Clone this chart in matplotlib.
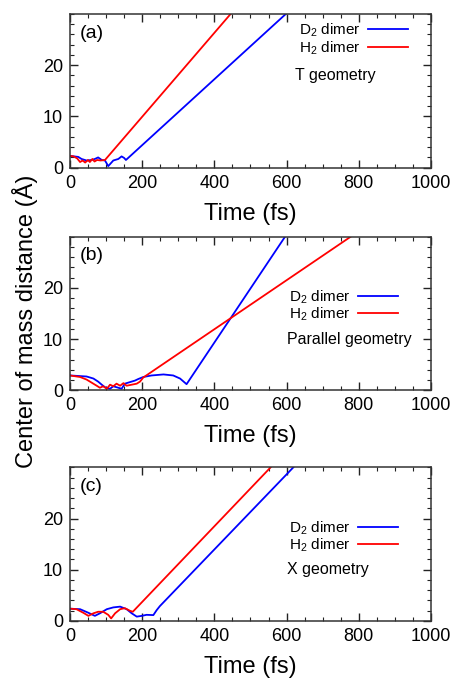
import matplotlib
matplotlib.use("Agg")
import matplotlib.pyplot as plt
from matplotlib.ticker import MultipleLocator

plt.rcParams['font.family'] = ['Liberation Sans', 'DejaVu Sans']

# time (fs) / centre-of-mass distance (Angstrom) for each geometry
t_geom_d2 = [0, 23, 32, 46, 60, 69, 78, 88, 97, 106, 113, 120, 134, 143, 150, 155, 598]
r_geom_d2 = [2.3, 2.1, 1.7, 1.4, 1.5, 1.7, 2.0, 1.5, 1.4, 0.3, 0.85, 1.4, 1.7, 2.2, 1.9, 1.5, 30]
t_geom_h2 = [0, 10, 20, 28, 35, 42, 50, 55, 62, 68, 75, 85, 97, 445]
r_geom_h2 = [2.3, 2.2, 1.8, 1.1, 1.4, 1.0, 1.5, 1.1, 1.7, 1.2, 1.5, 1.4, 1.5, 30]

t_par_d2 = [0, 46, 65, 78, 88, 97, 111, 120, 134, 143, 152, 166, 180, 189, 203, 226,
            259, 286, 305, 323, 596]
r_par_d2 = [2.9, 2.7, 2.3, 1.7, 1.1, 0.6, 0.3, 0.8, 0.5, 0.3, 1.3, 1.6, 1.9, 2.2, 2.6, 2.9,
            3.1, 2.9, 2.3, 1.2, 30]
t_par_h2 = [0, 28, 46, 60, 74, 83, 92, 102, 111, 120, 129, 139, 148, 157, 171, 185,
            194, 203, 778]
r_par_h2 = [2.9, 2.6, 2.1, 1.5, 0.9, 0.5, 0.8, 0.3, 1.1, 0.8, 1.3, 0.9, 1.4, 0.9, 1.1, 1.3,
            1.7, 2.5, 30]

t_x_d2 = [0, 28, 51, 69, 83, 102, 120, 139, 157, 171, 185, 199, 212, 231, 240, 249, 619]
r_x_d2 = [2.4, 2.3, 1.6, 1.0, 1.5, 2.3, 2.65, 2.8, 2.3, 1.5, 0.85, 1.0, 1.2, 1.15, 2.1, 2.9, 30]
t_x_h2 = [0, 18, 37, 51, 65, 78, 92, 106, 114, 125, 139, 152, 166, 174, 556]
r_x_h2 = [2.4, 2.3, 1.6, 1.0, 1.5, 1.8, 1.8, 1.2, 0.5, 1.5, 2.3, 2.5, 2.0, 1.8, 30]

# tag, geometry label, data, axes top, legend anchor (x, y), geometry label (x, y)
panels = [
    ("(a)", "T geometry", t_geom_d2, r_geom_d2, t_geom_h2, r_geom_h2,
     0.9794, (0.958, 0.837), (0.623, 0.597)),
    ("(b)", "Parallel geometry", t_par_d2, r_par_d2, t_par_h2, r_par_h2,
     0.6510, (0.930, 0.55), (0.601, 0.328)),
    ("(c)", "X geometry", t_x_d2, r_x_d2, t_x_h2, r_x_h2,
     0.3108, (0.930, 0.548), (0.601, 0.332)),
]

fig = plt.figure(figsize=(4.61, 6.78), dpi=100)
w, h = 0.783, 0.2267

for tag, geom, td, rd, th, rh, top, leg_xy, geom_xy in panels:
    ax = fig.add_axes([0.1518, top - h, w, h])
    ax.plot(td, rd, color='#0000ff', lw=1.3, label='D$_\\mathregular{2}$ dimer')
    ax.plot(th, rh, color='#ff0000', lw=1.3, label='H$_\\mathregular{2}$ dimer')
    ax.set_xlim(0, 1000)
    ax.set_ylim(0, 30)
    ax.set_yticks([0, 10, 20])
    ax.xaxis.set_major_locator(MultipleLocator(200))
    ax.xaxis.set_minor_locator(MultipleLocator(50))
    ax.yaxis.set_minor_locator(MultipleLocator(2))
    ax.tick_params(which='both', direction='in', top=True, right=True,
                   colors='#222222', labelcolor='black')
    ax.tick_params(which='major', length=6, width=1.0, labelsize=13, pad=5)
    ax.tick_params(which='minor', length=3, width=0.8)
    for s in ax.spines.values():
        s.set_color('#333333')
        s.set_linewidth(1.1)
    ax.set_xlabel('Time (fs)', fontsize=17, labelpad=8)
    ax.text(0.028, 0.93, tag, transform=ax.transAxes, fontsize=14, va='top', ha='left')
    ax.legend(loc='center right', bbox_to_anchor=leg_xy,
              frameon=False, markerfirst=False, fontsize=11, handlelength=2.6,
              handletextpad=0.5, labelspacing=0.0, borderpad=0)
    ax.text(geom_xy[0], geom_xy[1], geom, transform=ax.transAxes,
            fontsize=11.5, va='center', ha='left')

fig.text(0.054, 0.526, 'Center of mass distance (Å)', rotation=90, fontsize=17,
         va='center', ha='center')

fig.savefig('out.png', dpi=100)
